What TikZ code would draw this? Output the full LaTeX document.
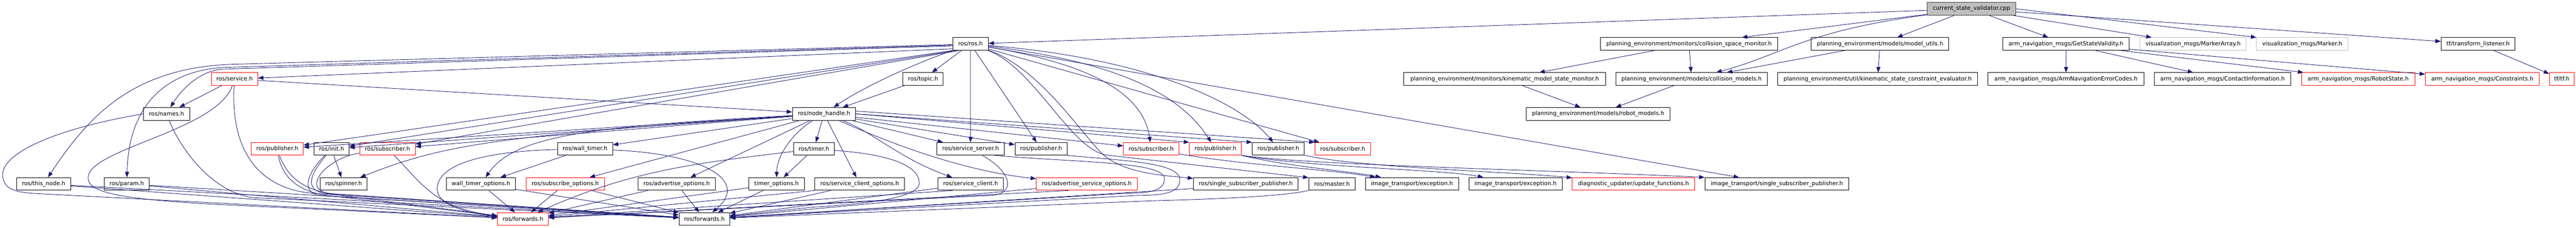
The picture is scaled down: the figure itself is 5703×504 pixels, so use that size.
\documentclass[tikz,border=0pt]{standalone}
\usepackage{fontspec}
\setmainfont{DejaVu Sans}
\usetikzlibrary{arrows.meta}
\definecolor{edgec}{HTML}{191970}
\definecolor{redb}{HTML}{FF0000}
\definecolor{grayb}{HTML}{BFBFBF}
\definecolor{darkb}{HTML}{404040}
\tikzset{
  nd/.style={draw=black, line width=1.1pt, fill=white, minimum height=28pt, inner sep=0pt, font=\fontsize{12.6pt}{15pt}\selectfont},
  ndr/.style={nd, draw=redb},
  ndg/.style={nd, draw=grayb},
  ndroot/.style={nd, fill=grayb, draw=darkb},
  dep/.style={draw=edgec, line width=1pt, -{Triangle[length=12pt,width=9pt]}}
}
\begin{document}
\begin{tikzpicture}[x=1pt,y=-1pt]
\useasboundingbox (0,0) rectangle (5703,504);
% row 0
\node[ndroot, minimum width=196pt] (cpp) at (4364.7,19.5) {current\_state\_validator.cpp};
% row 1
\node[nd, minimum width=79pt] (ros) at (2148.5,97.2) {ros/ros.h};
\node[nd, minimum width=392pt] (csm) at (3739.3,97.2) {planning\_environment/monitors/collision\_space\_monitor.h};
\node[nd, minimum width=304.3pt] (mu) at (4162.2,97.2) {planning\_environment/models/model\_utils.h};
\node[nd, minimum width=280.3pt] (gsv) at (4573.8,97.2) {arm\_navigation\_msgs/GetStateValidity.h};
\node[ndg, minimum width=234.7pt] (ma) at (4855.3,97.2) {visualization\_msgs/MarkerArray.h};
\node[ndg, minimum width=202pt] (mk) at (5096.7,97.2) {visualization\_msgs/Marker.h};
\node[nd, minimum width=163.4pt] (tfl) at (5486,97.2) {tf/transform\_listener.h};
% row 2
\node[ndr, minimum width=103pt] (service) at (519.2,174.7) {ros/service.h};
\node[nd, minimum width=89.6pt] (topic) at (2043.5,174.7) {ros/topic.h};
\node[nd, minimum width=447pt] (kmsm) at (3331.2,174.7) {planning\_environment/monitors/kinematic\_model\_state\_monitor.h};
\node[nd, minimum width=335pt] (cm) at (3744.8,174.7) {planning\_environment/models/collision\_models.h};
\node[nd, minimum width=443pt] (kse) at (4156.8,174.7) {planning\_environment/util/kinematic\_state\_constraint\_evaluator.h};
\node[nd, minimum width=346pt] (aec) at (4574,174.7) {arm\_navigation\_msgs/ArmNavigationErrorCodes.h};
\node[nd, minimum width=303pt] (ci) at (4920.5,174.7) {arm\_navigation\_msgs/ContactInformation.h};
\node[ndr, minimum width=251.3pt] (rs) at (5220.7,174.7) {arm\_navigation\_msgs/RobotState.h};
\node[ndr, minimum width=252.4pt] (con) at (5495.5,174.7) {arm\_navigation\_msgs/Constraints.h};
\node[ndr, minimum width=55pt] (tf) at (5671.5,174.7) {tf/tf.h};
% row 3
\node[nd, minimum width=102.7pt] (names) at (368.7,251.8) {ros/names.h};
\node[nd, minimum width=140pt] (nh) at (1824.3,251.8) {ros/node\_handle.h};
\node[nd, minimum width=318.6pt] (rm) at (3538,251.8) {planning\_environment/models/robot\_models.h};
% row 4
\node[ndr, minimum width=115pt] (pubA) at (613.8,329.2) {ros/publisher.h};
\node[nd, minimum width=77.4pt] (init) at (734,329.2) {ros/init.h};
\node[ndr, minimum width=123pt] (subA) at (857.8,329.2) {ros/subscriber.h};
\node[nd, minimum width=122pt] (wt) at (1295.3,329.2) {ros/wall\_timer.h};
\node[nd, minimum width=90.6pt] (timer) at (1802,329.2) {ros/timer.h};
\node[nd, minimum width=149.3pt] (ss) at (2148.7,329.2) {ros/service\_server.h};
\node[nd, minimum width=115.3pt] (pubB) at (2304.7,329.2) {ros/publisher.h};
\node[ndr, minimum width=123pt] (subB) at (2548.5,329.2) {ros/subscriber.h};
\node[ndr, minimum width=115.4pt] (pubC) at (2691,329.2) {ros/publisher.h};
\node[nd, minimum width=115.4pt] (pubD) at (2830,329.2) {ros/publisher.h};
\node[ndr, minimum width=123pt] (subD) at (2972.5,329.2) {ros/subscriber.h};
% row 5
\node[nd, minimum width=120pt] (thisnode) at (96.7,406.7) {ros/this\_node.h};
\node[nd, minimum width=100pt] (param) at (280.7,406.7) {ros/param.h};
\node[nd, minimum width=104pt] (spinner) at (760.7,406.7) {ros/spinner.h};
\node[nd, minimum width=152pt] (wto) at (1064.7,406.7) {wall\_timer\_options.h};
\node[ndr, minimum width=173.6pt] (subo) at (1251.5,406.7) {ros/subscribe\_options.h};
\node[nd, minimum width=170.6pt] (advo) at (1498,406.7) {ros/advertise\_options.h};
\node[nd, minimum width=123pt] (tmo) at (1719.2,406.7) {timer\_options.h};
\node[nd, minimum width=198.7pt] (sco) at (1903.3,406.7) {ros/service\_client\_options.h};
\node[nd, minimum width=144pt] (sc) at (2148.7,406.7) {ros/service\_client.h};
\node[ndr, minimum width=223pt] (aso) at (2405.8,406.7) {ros/advertise\_service\_options.h};
\node[nd, minimum width=232pt] (rssp) at (2758,406.7) {ros/single\_subscriber\_publisher.h};
\node[nd, minimum width=102.7pt] (master) at (2948.7,406.7) {ros/master.h};
\node[nd, minimum width=206.6pt] (itex1) at (3126,406.7) {image\_transport/exception.h};
\node[nd, minimum width=206.7pt] (itex2) at (3355.3,406.7) {image\_transport/exception.h};
\node[ndr, minimum width=271pt] (diag) at (3616.5,406.7) {diagnostic\_updater/update\_functions.h};
\node[nd, minimum width=319pt] (itssp) at (3933.8,406.7) {image\_transport/single\_subscriber\_publisher.h};
% row 6
\node[ndr, minimum width=112.3pt] (F1) at (1157.8,484.2) {ros/forwards.h};
\node[nd, minimum width=112pt] (F2) at (1559.3,484.2) {ros/forwards.h};

% ---- edges: root and right part
\draw[dep] (cpp) -- (ros);
\draw[dep] (cpp) -- (csm);
\draw[dep] (cpp) .. controls (3990,70) and (3950,120) .. (cm);
\draw[dep] (cpp) -- (mu);
\draw[dep] (cpp) -- (gsv);
\draw[dep] (cpp) -- (ma);
\draw[dep] (cpp.east) -- (mk.north west);
\draw[dep] (cpp) -- (tfl);
\draw[dep] (gsv) -- (aec);
\draw[dep] (gsv) -- (ci);
\draw[dep] (gsv) -- (rs);
\draw[dep] (gsv) -- (con);
\draw[dep] (tfl) -- (tf);
\draw[dep] (csm) -- (kmsm);
\draw[dep] (csm) -- (cm);
\draw[dep] (mu) -- (cm);
\draw[dep] (mu) -- (kse);
\draw[dep] (kmsm) -- (rm);
\draw[dep] (cm) -- (rm);

% ---- ros/ros.h
\draw[dep] (ros) -- (topic);
\draw[dep] (ros.south west) .. controls (2000,150) and (1900,200) .. (nh);
\draw[dep] (topic) -- (nh);
\draw[dep] (ros.195) -- (service);
\draw[dep] (service) -- (nh);
\draw[dep] (service) -- (names);
\draw[dep] (ros.182) -- (520,142) .. controls (300,148) and (200,250) .. (thisnode);
\draw[dep] (ros.184) -- (500,149) .. controls (380,154) and (285,220) .. (param);
\draw[dep] (ros.186) -- (490,153) .. controls (440,158) and (400,200) .. (names);
\draw[dep] (ros.200) -- (pubA);
\draw[dep] (ros.205) -- (init);
\draw[dep] (ros.210) -- (subA);
\draw[dep] (ros) -- (ss);
\draw[dep] (ros) -- (pubB);
\draw[dep] (ros) .. controls (2400,140) and (2530,200) .. (subB);
\draw[dep] (ros) .. controls (2500,140) and (2620,220) .. (pubC);
\draw[dep] (ros) .. controls (2550,130) and (2750,230) .. (pubD);
\draw[dep] (ros) -- (subD);
\draw[dep] (ros) -- (itssp);
\draw[dep] (ros) .. controls (2300,150) and (2390,290) .. (2440,340) .. controls (2490,385) and (2580,388) .. (rssp);
\draw[dep] (ros) .. controls (2290,150) and (2370,330) .. (2450,343) -- (master.165);

% ---- ros/node_handle.h
\draw[dep] (nh) -- (pubA);
\draw[dep] (nh) -- (init);
\draw[dep] (nh) -- (subA);
\draw[dep] (nh) .. controls (1100,300) and (980,320) .. (spinner);
\draw[dep] (init) -- (spinner);
\draw[dep] (nh) -- (wt);
\draw[dep] (nh) .. controls (1300,280) and (1140,300) .. (wto);
\draw[dep] (wt) -- (wto);
\draw[dep] (nh) -- (subo);
\draw[dep] (nh) -- (advo);
\draw[dep] (nh) -- (timer);
\draw[dep] (nh) .. controls (1760,290) and (1720,340) .. (tmo);
\draw[dep] (timer) -- (tmo);
\draw[dep] (nh) -- (sco);
\draw[dep] (nh) -- (ss);
\draw[dep] (nh) -- (pubB);
\draw[dep] (nh) .. controls (1930,290) and (1990,350) .. (sc);
\draw[dep] (nh) .. controls (2000,330) and (2150,380) .. (aso);
\draw[dep] (nh) -- (subB);
\draw[dep] (nh.east) -- (pubC.north west);
\draw[dep] (nh.east) -- (pubD.north west);
\draw[dep] (nh.5) -- (subD.north west);

% ---- lower right
\draw[dep] (subB) .. controls (2750,365) and (2950,375) .. (itex1);
\draw[dep] (pubC.south east) .. controls (2850,368) and (3000,380) .. (itex1);
\draw[dep] (pubC.south east) .. controls (2900,370) and (3200,375) .. (itex2);
\draw[dep] (pubC.south east) .. controls (2900,365) and (3400,375) .. (itssp.north west);
\draw[dep] (pubD) .. controls (3000,370) and (3350,380) .. (diag);

% ---- into ros/forwards.h
\draw[dep] (thisnode) -- (F1);
\draw[dep] (thisnode) -- (F2);
\draw[dep] (param) -- (F1);
\draw[dep] (param) -- (F2);
\draw[dep] (names.west) .. controls (120,285) and (0,340) .. (6,390) .. controls (10,418) and (30,425) .. (80,428) -- (F1);
\draw[dep] (names) .. controls (400,330) and (470,425) .. (560,437) -- (F2);
\draw[dep] (service) .. controls (510,330) and (570,420) .. (700,428) -- (F2);
\draw[dep] (service) .. controls (480,290) and (190,330) .. (195,395) .. controls (198,425) and (260,440) .. (480,452) -- (F1);
\draw[dep] (pubA) .. controls (625,395) and (665,428) .. (740,434) -- (F1);
\draw[dep] (pubA) .. controls (635,390) and (675,428) .. (760,430) -- (F2);
\draw[dep] (init) .. controls (700,370) and (665,415) .. (715,427) -- (F1);
\draw[dep] (init) .. controls (690,372) and (660,420) .. (705,432) -- (F2);
\draw[dep] (subA) .. controls (930,400) and (960,460) .. (F1);
\draw[dep] (subA) .. controls (720,350) and (665,420) .. (730,428) -- (F2);
\draw[dep] (wt) .. controls (1050,335) and (965,370) .. (968,420) .. controls (970,455) and (1040,472) .. (F1);
\draw[dep] (wt) .. controls (1560,340) and (1660,400) .. (F2);
\draw[dep] (wto) -- (F1);
\draw[dep] (wto) -- (F2);
\draw[dep] (subo) -- (F1);
\draw[dep] (subo) -- (F2);
\draw[dep] (advo) -- (F1);
\draw[dep] (advo) -- (F2);
\draw[dep] (timer) .. controls (1550,360) and (1400,375) .. (F1);
\draw[dep] (timer) .. controls (1950,340) and (2035,360) .. (2035,405) .. controls (2035,440) and (1900,452) .. (1800,458) -- (F2);
\draw[dep] (tmo) -- (F1);
\draw[dep] (tmo) -- (F2);
\draw[dep] (sco.south west) -- (F1);
\draw[dep] (sco) -- (F2);
\draw[dep] (sc.200) -- (F1);
\draw[dep] (sc) -- (F2);
\draw[dep] (aso.200) -- (F1);
\draw[dep] (aso) -- (F2);
\draw[dep] (ss) .. controls (2240,380) and (2250,428) .. (2195,432) -- (F1);
\draw[dep] (ss.-15) .. controls (2400,360) and (2578,358) .. (2578,395) .. controls (2578,420) and (2550,427) .. (2500,427) -- (F2);
\draw[dep] (pubB.south east) .. controls (2500,356) and (2612,360) .. (2612,398) .. controls (2612,425) and (2580,432) .. (2520,432) -- (F2);
\draw[dep] (rssp.185) -- (F2);
\draw[dep] (master.south west) .. controls (2840,434) and (2700,440) .. (2550,444) -- (F2);
\end{tikzpicture}
\end{document}
